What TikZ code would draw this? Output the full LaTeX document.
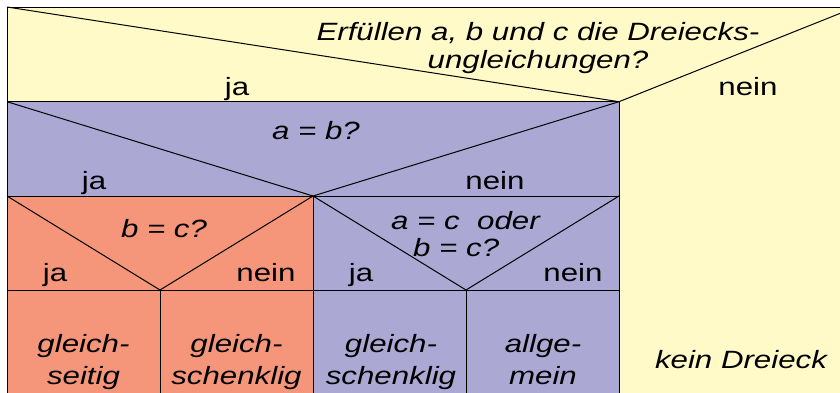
\documentclass[tikz,border=0pt]{standalone}
\usepackage{fontspec}
\setmainfont[FakeStretch=1.25]{Liberation Sans}
\usepackage{xcolor}

\definecolor{nsyellow}{RGB}{255,250,200}
\definecolor{nspurple}{RGB}{172,168,212}
\definecolor{nsorange}{RGB}{245,150,122}

\begin{document}
\begin{tikzpicture}[x=1pt, y=-1pt,
  frame/.style={draw=black, line width=1pt},
  edge/.style={black, line width=1pt},
  answer/.style={font=\fontsize{25}{28}\selectfont, anchor=base, inner sep=0pt},
  question/.style={font=\fontsize{25}{28}\selectfont\itshape, anchor=base, inner sep=0pt},
  twoline/.style={font=\fontsize{25}{28}\selectfont\itshape, align=center,
                  anchor=north, inner sep=0pt},
  result/.style={font=\fontsize{25}{32}\selectfont\itshape, align=center,
                 anchor=north, inner sep=0pt}
]
\clip (0,0) rectangle (840,392);

% corners and branch points
\coordinate (tl)   at (7,7);
\coordinate (tr)   at (856,7);
\coordinate (br)   at (856,400);
\coordinate (r1l)  at (7,101.7);
\coordinate (top)  at (619,101.7);
\coordinate (topb) at (619,400);
\coordinate (r2l)  at (7,196);
\coordinate (r2r)  at (619,196);
\coordinate (mid)  at (313,196);
\coordinate (midb) at (313,400);
\coordinate (r3l)  at (7,290);
\coordinate (r3r)  at (619,290);
\coordinate (lv)   at (160,290);
\coordinate (lvb)  at (160,400);
\coordinate (rv)   at (466,290);
\coordinate (rvb)  at (466,400);

% fills
\fill[nsyellow] (tl) rectangle (br);
\fill[nspurple] (r1l) rectangle (r2r);
\fill[nsorange] (r2l) rectangle (midb);
\fill[nspurple] (mid) rectangle (topb);

% decision lines
\draw[edge] (tl) -- (top) -- (tr);
\draw[edge] (r1l) -- (mid) -- (top);
\draw[edge] (r2l) -- (lv) -- (mid) -- (rv) -- (r2r);

% grid
\draw[edge] (r1l) -- (top) -- (topb);
\draw[edge] (r2l) -- (r2r);
\draw[edge] (r3l) -- (r3r);
\draw[edge] (mid) -- (midb);
\draw[edge] (lv)  -- (lvb);
\draw[edge] (rv)  -- (rvb);
\draw[frame] (tl) rectangle (br);

% texts
\node[twoline] (q0) at (538,22.5) {Erfüllen a, b und c die Dreiecks-\\ungleichungen?};
\node[answer] (ja0)   at (237,95) {ja};
\node[answer] (nein0) at (748,95) {nein};

\node[question] (q1) at (316,139) {a = b?};
\node[answer] (ja1)   at (94,189)  {ja};
\node[answer] (nein1) at (495,189) {nein};

\node[question] (q2) at (164,237) {b = c?};
\node[answer] (ja2)   at (55,281)  {ja};
\node[answer] (nein2) at (266,281) {nein};

\node[twoline, align=left, anchor=north west,
      font=\fontsize{25}{27}\selectfont\itshape] (q3) at (391,211)
      {a = c\ \ oder\\\hspace*{22pt}b = c?};
\node[answer] (ja3)   at (361,281) {ja};
\node[answer] (nein3) at (573,281) {nein};

\node[result] (gs)  at (83.5,334)  {gleich-\\seitig};
\node[result] (gsl) at (236.5,334) {gleich-\\schenklig};
\node[result] (gsr) at (391,334)   {gleich-\\schenklig};
\node[result] (ag)  at (543,334)   {allge-\\mein};
\node[question] (kd) at (741,368) {kein Dreieck};

\end{tikzpicture}
\end{document}
